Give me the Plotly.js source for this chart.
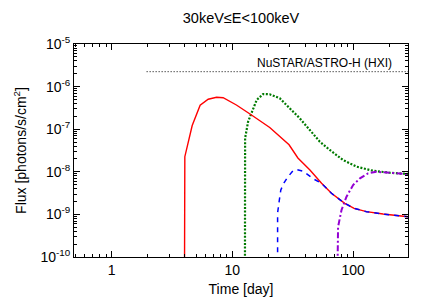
<!DOCTYPE html>
<html>
<head>
<meta charset="utf-8">
<script src="https://cdn.plot.ly/plotly-3.0.1.min.js"></script>
<style>html,body{margin:0;padding:0;background:#fff;}#chart{width:436px;height:305px;}</style>
</head>
<body>
<div id="chart"></div>
<script>
// Data (time in days, flux in photons/s/cm^2)
const redX    = [4.0, 4.04, 4.65, 5.41, 6.31, 7.40, 8.39, 10.8, 14.2, 20.4, 29.5, 34.9, 43.9, 54.8, 66.2, 85.3, 102, 129, 177, 285];
const redY    = [1e-12, 2.26e-8, 1.22e-7, 3.64e-7, 5.06e-7, 5.61e-7, 5.49e-7, 3.70e-7, 2.21e-7, 1.10e-7, 4.3e-8, 2.11e-8, 1.1e-8, 5.37e-9, 3.13e-9, 1.82e-9, 1.39e-9, 1.16e-9, 1.02e-9, 8.8e-10];

const greenX  = [12.7, 12.7, 12.75, 13.5, 14.4, 15.9, 18.0, 20.4, 24.7, 29.9, 36.2, 43.8, 53.0, 64.1, 82.6, 107, 146, 201, 285];
const greenY  = [1e-12, 5.5e-9, 6.11e-8, 1.50e-7, 2.36e-7, 4.85e-7, 6.70e-7, 6.60e-7, 5.31e-7, 3.10e-7, 1.80e-7, 9.58e-8, 5.09e-8, 3.25e-8, 1.89e-8, 1.32e-8, 1.06e-8, 9.5e-9, 8.9e-9];

const blueX   = [23.7, 23.7, 24.5, 25.2, 26.7, 28.8, 31.9, 34.2, 38.3, 42.4, 48.0, 54.8, 66.2, 85.3, 102, 129, 177, 285];
const blueY   = [1e-12, 1.08e-9, 2.18e-9, 3.74e-9, 5.46e-9, 7.55e-9, 1.07e-8, 1.13e-8, 1.04e-8, 8.4e-9, 6.6e-9, 5.37e-9, 3.13e-9, 1.82e-9, 1.39e-9, 1.16e-9, 1.02e-9, 8.8e-10];

const purpleX = [72.9, 74.0, 75.1, 80.2, 88.2, 100, 114, 133, 156, 201, 285];
const purpleY = [1e-12, 2.5e-10, 5.1e-10, 1.27e-9, 2.6e-9, 4.9e-9, 7.0e-9, 9.2e-9, 1.0e-8, 9.5e-9, 8.8e-9];

const hxiX = [1.95, 285];
const hxiY = [2.24e-6, 2.24e-6];
const hxiLabel = "NuSTAR/ASTRO-H (HXI)";
const hxiLabelX = 217;

const xMajor = [1, 10, 100];
const xMajorText = ["1", "10", "100"];
const xMinor = [0.5,0.6,0.7,0.8,0.9,2,3,4,5,6,7,8,9,20,30,40,50,60,70,80,90,200,300];
const yExp = [-10, -9, -8, -7, -6, -5];
const yMajor = yExp.map(e => Math.pow(10, e));
const yMajorText = yExp.map(e => "10<sup>" + e + "</sup>");
const yMinor = [];
for (let e = -10; e < -5; e++) for (let k = 2; k <= 9; k++) yMinor.push(k * Math.pow(10, e));

const titleText = "30keV≤E<100keV";
const xTitle = "Time [day]";
const yTitle = "Flux [photons/s/cm<sup>2</sup>]";

const xRange = [Math.log10(0.488), Math.log10(285)];
const yRange = [-10, -5];
const FONT = "Liberation Sans, Arial, Helvetica, sans-serif";

const traces = [
  {x: hxiX, y: hxiY, mode: "lines", line: {color: "#000", width: 1, dash: "1px,2px"}, hoverinfo: "skip"},
  {x: greenX, y: greenY, mode: "lines", line: {color: "#007a00", width: 2.2, dash: "2px,1.6px"}},
  {x: redX, y: redY, mode: "lines", line: {color: "#ff0000", width: 1.4}},
  {x: blueX, y: blueY, mode: "lines", line: {color: "#0000ff", width: 1.5, dash: "5px,5px"}},
  {x: purpleX, y: purpleY, mode: "lines", line: {color: "#9400d3", width: 2, dash: "6px,2.5px,2px,2.5px"}},
  {x: [], y: [], xaxis: "x2", yaxis: "y2", mode: "lines", hoverinfo: "skip"}
];

const baseAxis = {type: "log", showgrid: false, zeroline: false, showline: true, linecolor: "#000", linewidth: 1,
  mirror: "allticks", ticks: "inside", tickcolor: "#000", tickwidth: 1};

const layout = {
  width: 436, height: 305,
  margin: {l: 74, r: 28, t: 44, b: 48, pad: 0},
  paper_bgcolor: "#fff", plot_bgcolor: "#fff",
  showlegend: false,
  font: {family: FONT, size: 14, color: "#000"},
  title: {text: titleText, font: {family: FONT, size: 14.5, color: "#000"}, x: 0.5, xref: "paper", y: 1 - 18/305, yref: "container", yanchor: "middle"},
  xaxis: Object.assign({}, baseAxis, {range: xRange, tickmode: "array", tickvals: xMajor, ticktext: xMajorText, ticklen: 6,
    title: {text: xTitle, font: {family: FONT, size: 14}, standoff: 7}, tickfont: {family: FONT, size: 14}}),
  yaxis: Object.assign({}, baseAxis, {range: yRange, tickmode: "array", tickvals: yMajor, ticktext: yMajorText, ticklen: 6,
    title: {text: yTitle, font: {family: FONT, size: 14}, standoff: 10}, tickfont: {family: FONT, size: 14}}),
  xaxis2: Object.assign({}, baseAxis, {overlaying: "x", anchor: "y2", range: xRange, tickmode: "array", tickvals: xMinor, ticklen: 3, showticklabels: false}),
  yaxis2: Object.assign({}, baseAxis, {overlaying: "y", anchor: "x2", range: yRange, tickmode: "array", tickvals: yMinor, ticklen: 3, showticklabels: false}),
  annotations: [{x: Math.log10(hxiLabelX), y: Math.log10(hxiY[0]), xref: "x", yref: "y", text: hxiLabel, showarrow: false,
    xanchor: "right", yanchor: "bottom", yshift: 0, font: {family: FONT, size: 12, color: "#000"}}]
};

Plotly.newPlot("chart", traces, layout, {staticPlot: true, displayModeBar: false});
</script>
</body>
</html>
